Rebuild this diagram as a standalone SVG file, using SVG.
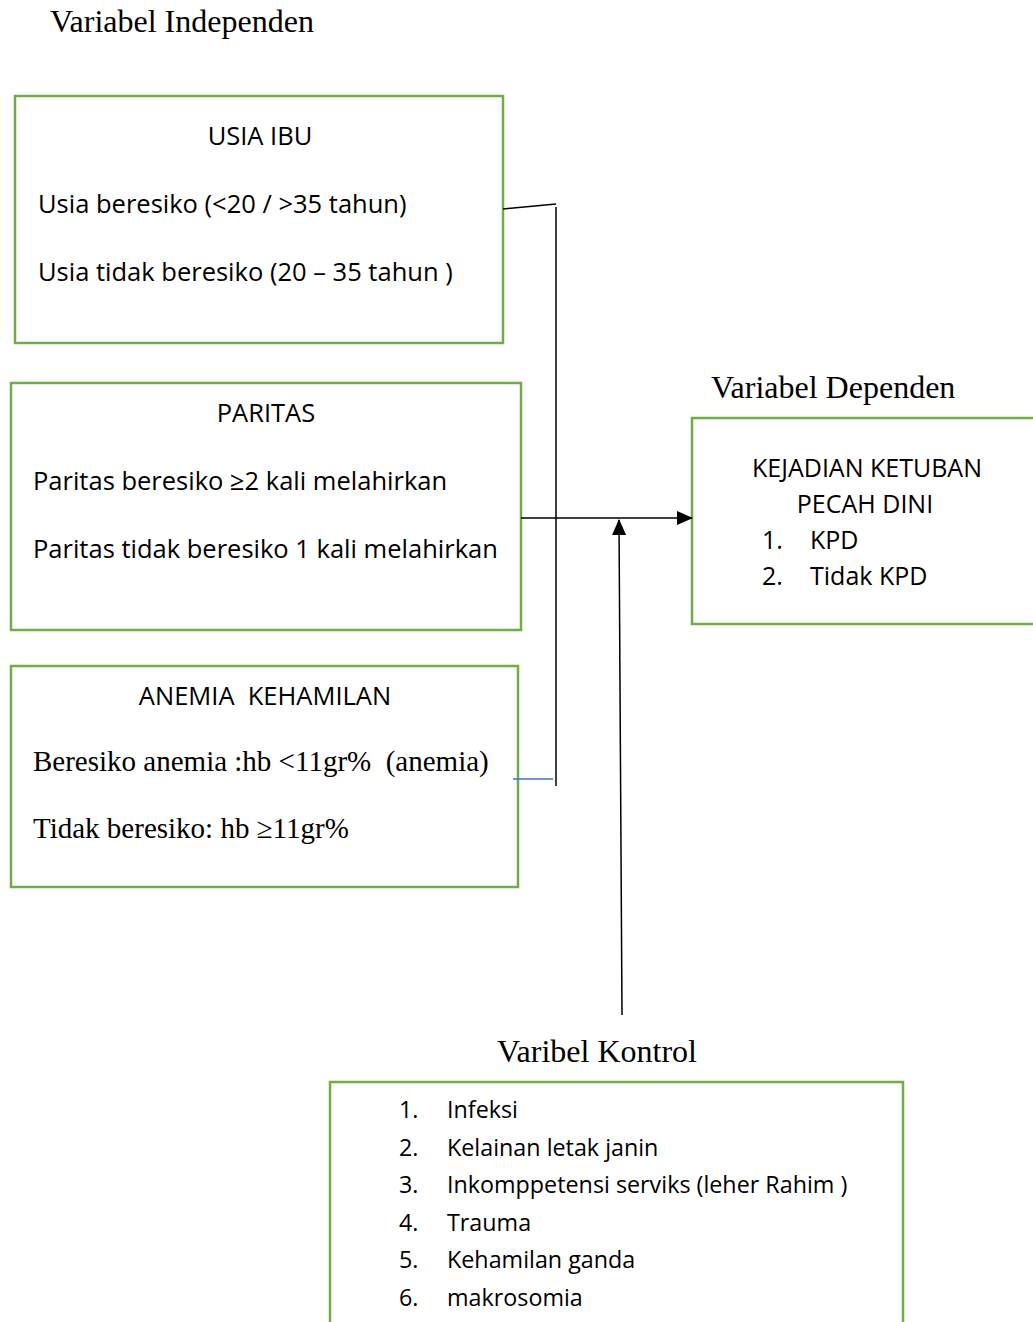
<svg xmlns="http://www.w3.org/2000/svg" width="1033" height="1322" viewBox="0 0 1033 1322">
<defs>
<style>
.box{fill:#fff;stroke:#70ad47;stroke-width:2.5}
.s{font-family:"Open Sans","Liberation Sans",Arial,sans-serif;font-size:25.5px;fill:#000}
.d{font-family:"Open Sans","Liberation Sans",Arial,sans-serif;font-size:25px;fill:#000}
.t{font-family:"Open Sans","Liberation Sans",Arial,sans-serif;font-size:23.3px;fill:#000}
.r{font-family:"Liberation Serif","Times New Roman",serif;font-size:32px;fill:#000}
.r2{font-family:"Liberation Serif","Times New Roman",serif;font-size:29px;fill:#000;white-space:pre}
.ln{stroke:#000;stroke-width:1.5;fill:none}
</style>
<marker id="ah2" markerWidth="16" markerHeight="14" refX="15" refY="7" orient="auto" markerUnits="userSpaceOnUse">
<path d="M0,0 L16,7 L0,14 z" fill="#000"/>
</marker>
</defs>
<rect width="1033" height="1322" fill="#fff"/>
<text class="r" x="50" y="32">Variabel Independen</text>
<text class="r" x="711" y="398">Variabel Dependen</text>
<text class="r" x="497" y="1062">Varibel Kontrol</text>

<g id="usia-ibu">
<rect class="box" x="15" y="96" width="488" height="247"/>
<text class="s" x="260" y="145" text-anchor="middle">USIA IBU</text>
<text class="s" x="38" y="213">Usia beresiko (&lt;20 / &gt;35 tahun)</text>
<text class="s" x="38" y="281">Usia tidak beresiko (20 – 35 tahun )</text>
</g>

<g id="paritas">
<rect class="box" x="11" y="383" width="510" height="247"/>
<text class="s" x="266" y="422" text-anchor="middle">PARITAS</text>
<text class="s" x="33" y="490">Paritas beresiko ≥2 kali melahirkan</text>
<text class="s" x="33" y="558">Paritas tidak beresiko 1 kali melahirkan</text>
</g>

<g id="anemia">
<rect class="box" x="11" y="666" width="507" height="221"/>
<text class="s" x="265" y="705" text-anchor="middle" style="white-space:pre">ANEMIA  KEHAMILAN</text>
<text class="r2" x="33" y="771">Beresiko anemia :hb &lt;11gr%  (anemia)</text>
<text class="r2" x="33" y="838">Tidak beresiko: hb ≥11gr%</text>
</g>

<g id="kpd">
<rect class="box" x="692" y="418" width="345" height="206"/>
<text class="d" x="867" y="477" text-anchor="middle">KEJADIAN KETUBAN</text>
<text class="d" x="865" y="513" text-anchor="middle">PECAH DINI</text>
<text class="d" x="762" y="549">1.</text><text class="d" x="810" y="549">KPD</text>
<text class="d" x="762" y="585">2.</text><text class="d" x="810" y="585">Tidak KPD</text>
</g>

<g id="kontrol">
<rect class="box" x="330" y="1082" width="573" height="250"/>
<text class="t" x="399" y="1118">1.</text><text class="t" x="447" y="1118">Infeksi</text>
<text class="t" x="399" y="1156">2.</text><text class="t" x="447" y="1156">Kelainan letak janin</text>
<text class="t" x="399" y="1193">3.</text><text class="t" x="447" y="1193">Inkomppetensi serviks (leher Rahim )</text>
<text class="t" x="399" y="1231">4.</text><text class="t" x="447" y="1231">Trauma</text>
<text class="t" x="399" y="1268">5.</text><text class="t" x="447" y="1268">Kehamilan ganda</text>
<text class="t" x="399" y="1306">6.</text><text class="t" x="447" y="1306">makrosomia</text>
</g>

<g id="connectors">
<path class="ln" d="M503,209 L556,204"/>
<path class="ln" d="M556,207 L556,786"/>
<path class="ln" d="M521,518 L692,518" marker-end="url(#ah2)"/>
<path class="ln" d="M622,1015 L619,520" marker-end="url(#ah2)"/>
<path d="M513,779 L553,779" stroke="#4472c4" stroke-width="1.5"/>
</g>
</svg>
